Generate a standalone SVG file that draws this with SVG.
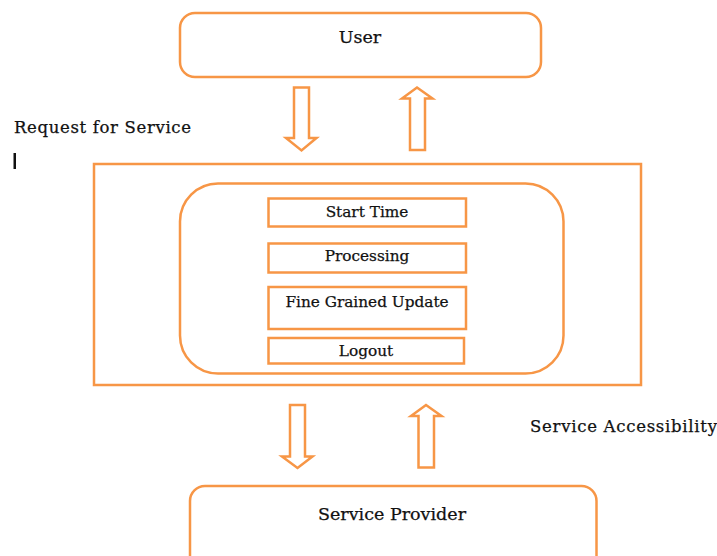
<svg xmlns="http://www.w3.org/2000/svg" width="717" height="556" viewBox="0 0 717 556">
<style>
.box{fill:#fff;stroke:#F79646;stroke-width:2.5}
.arr{fill:#fff;stroke:#F79646;stroke-width:2.5;stroke-linejoin:miter}
text{font-family:"DejaVu Serif","Liberation Serif",serif;fill:#111;stroke:#111;stroke-width:0.25}
.t{font-size:17.5px;text-anchor:middle}
.s{font-size:15.3px;text-anchor:middle}
.l{font-size:16.5px}
</style>
<rect width="717" height="556" fill="#fff"/>
<g id="user"><rect class="box" x="180" y="13" width="361" height="64" rx="15"/><text class="t" x="360" y="42.5">User</text></g>
<g id="system">
<rect class="box" x="94" y="164" width="547" height="221"/>
<rect class="box" x="180" y="183.5" width="383.5" height="190" rx="38"/>
</g>
<g id="start-time"><rect class="box" x="268.5" y="198.5" width="197.5" height="28"/><text class="s" x="367" y="216.5">Start Time</text></g>
<g id="processing"><rect class="box" x="268.5" y="243.5" width="197.5" height="29"/><text class="s" x="367" y="261">Processing</text></g>
<g id="fine-grained"><rect class="box" x="268.5" y="287" width="197.5" height="42"/><text class="s" x="367" y="306.5">Fine Grained Update</text></g>
<g id="logout"><rect class="box" x="268.5" y="338" width="195.5" height="25.5"/><text class="s" x="366" y="356">Logout</text></g>
<g id="provider"><rect class="box" x="190" y="486" width="406.5" height="90" rx="15"/><text class="t" x="392" y="520">Service Provider</text></g>
<g id="connectors">
<polygon class="arr" points="294,87.5 309,87.5 309,138 316.5,138 301.5,150.5 286,138 294,138"/>
<polygon class="arr" points="417,87.5 432.5,98.5 425,98.5 425,150 410,150 410,98.5 402,98.5"/>
<polygon class="arr" points="290,405 305,405 305,456.5 312.5,456.5 297.5,468 282,456.5 290,456.5"/>
<polygon class="arr" points="426,405 441.5,416 434,416 434,467.5 418.5,467.5 418.5,416 411,416"/>
</g>
<text class="l" x="14" y="133" textLength="177">Request for Service</text>
<text class="l" x="530" y="432" textLength="187">Service Accessibility</text>
<rect x="13.5" y="153" width="2.5" height="16" fill="#111"/>
</svg>
